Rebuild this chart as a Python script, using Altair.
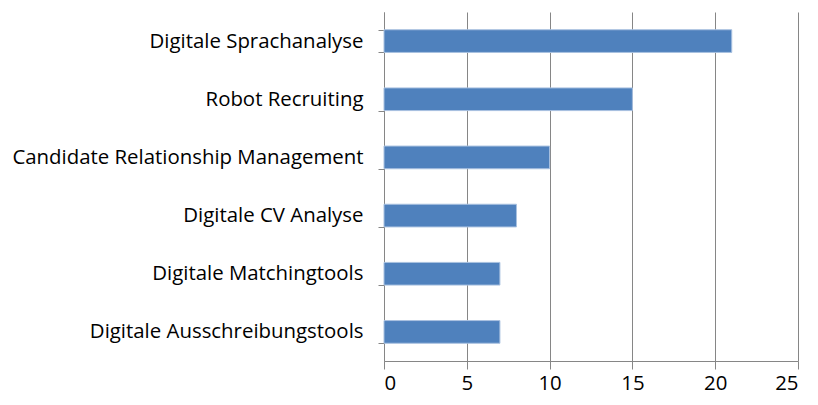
import altair as alt
import pandas as pd

categories = [
    "Digitale Sprachanalyse",
    "Robot Recruiting",
    "Candidate Relationship Management",
    "Digitale CV Analyse",
    "Digitale Matchingtools",
    "Digitale Ausschreibungstools",
]
values = [21, 15, 10, 8, 7, 7]

df = pd.DataFrame({"cat": categories, "val": values})

FONT = "Open Sans"
FS = 20.4

chart = (
    alt.Chart(df)
    .mark_bar(color="#4F81BD", stroke="#A9C1E0", strokeWidth=1)
    .encode(
        x=alt.X(
            "val:Q",
            scale=alt.Scale(domain=[0, 25], nice=False),
            axis=alt.Axis(
                values=[0, 5, 10, 15, 20, 25],
                title=None,
                grid=True,
                gridColor="#868686",
                gridWidth=1,
                domainColor="#868686",
                tickColor="#868686",
                tickSize=8,
                labelPadding=4,
                labelFont=FONT,
                labelFontSize=FS,
                labelColor="#000000",
            ),
        ),
        y=alt.Y(
            "cat:N",
            sort=categories,
            scale=alt.Scale(paddingInner=0.61, paddingOuter=0.305),
            axis=alt.Axis(
                title=None,
                tickBand="extent",
                domainColor="#868686",
                tickColor="#868686",
                tickSize=6,
                labelPadding=15,
                labelFont=FONT,
                labelFontSize=FS,
                labelColor="#000000",
                labelLimit=500,
            ),
        ),
    )
    .properties(
        width=414,
        height=349,
        autosize=alt.AutoSizeParams(type="none"),
        padding={"left": 376, "top": 4, "right": 12, "bottom": 36},
    )
    .configure_view(stroke=None)
)

chart.save("out.html", embed_options={"renderer": "svg", "actions": False})
